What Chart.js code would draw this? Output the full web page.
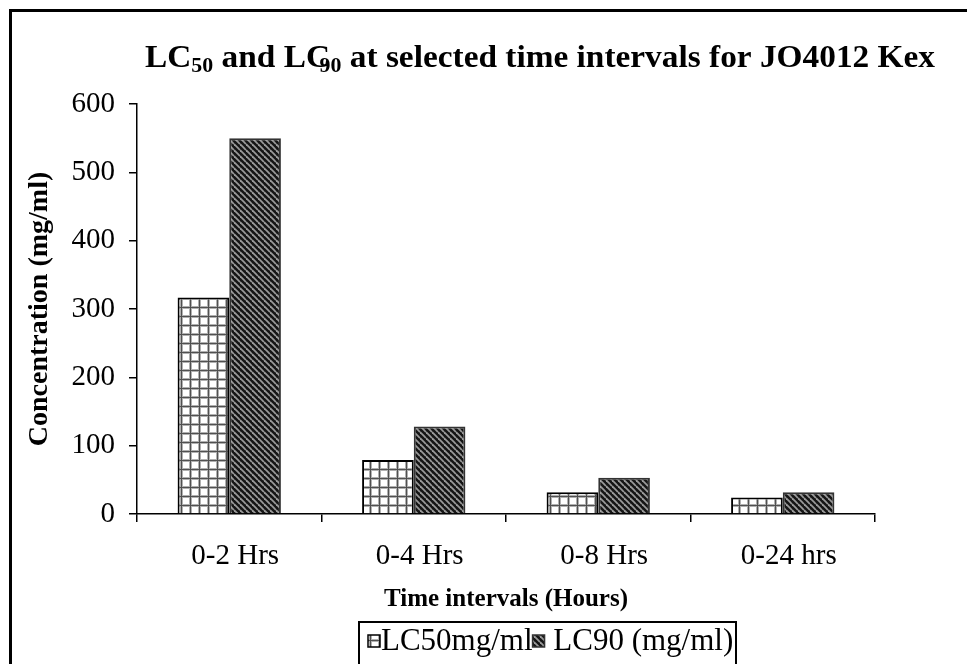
<!DOCTYPE html>
<html>
<head>
<meta charset="utf-8">
<script src="https://cdn.jsdelivr.net/npm/chart.js@4/dist/chart.umd.min.js"></script>
<style>
  html, body { margin: 0; padding: 0; background: #fff; }
  #wrap { width: 967px; height: 664px; position: relative; }
</style>
</head>
<body>
<div id="wrap"><canvas id="c" width="967" height="664"></canvas></div>
<script>
// Time intervals and the lethal concentrations measured for each
const categories = ['0-2 Hrs', '0-4 Hrs', '0-8 Hrs', '0-24 hrs'];
const lc50 = [317, 79, 32, 24];
const lc90 = [550, 128, 53, 32];
const seriesNames = ['LC50mg/ml', ' LC90 (mg/ml)'];
const yTicks = [0, 100, 200, 300, 400, 500, 600];

const SERIF = '"Liberation Serif", "Times New Roman", serif';

// Fill patterns: square grid for LC50, diagonal hatching for LC90
function gridPattern() {
  const c = document.createElement('canvas');
  c.width = 9; c.height = 9;
  const g = c.getContext('2d');
  g.fillStyle = '#ffffff'; g.fillRect(0, 0, 9, 9);
  g.fillStyle = '#b0b0b0';
  g.fillRect(0, 0, 9, 3); g.fillRect(0, 0, 3, 9);
  g.fillStyle = '#505050';
  g.fillRect(0, 1, 9, 1); g.fillRect(1, 0, 1, 9);
  return g.createPattern(c, 'repeat');
}
function hatchPattern() {
  const n = 6;
  const c = document.createElement('canvas');
  c.width = n; c.height = n;
  const g = c.getContext('2d');
  g.fillStyle = '#151515'; g.fillRect(0, 0, n, n);
  g.strokeStyle = '#9a9a9a'; g.lineWidth = 1.8;
  for (let k = -1; k <= 1; k++) {
    g.beginPath(); g.moveTo(0, k * n); g.lineTo(n, n + k * n); g.stroke();
  }
  return g.createPattern(c, 'repeat');
}
const fillLC50 = gridPattern();
const fillLC90 = hatchPattern();

// Page frame, headline with subscripts, and the boxed key
const decor = {
  id: 'decor',
  afterDraw(chart) {
    const ctx = chart.ctx;
    ctx.save();
    // frame
    ctx.strokeStyle = '#000'; ctx.lineWidth = 3;
    ctx.beginPath(); ctx.moveTo(10.5, 700); ctx.lineTo(10.5, 10.5); ctx.lineTo(980, 10.5); ctx.stroke();

    // headline
    const big = 'bold 32px ' + SERIF, small = 'bold 21px ' + SERIF;
    const parts = [
      ['LC', big, 0, 0], ['50', small, 5, 0], [' and LC', big, 0, 0], ['90', small, 5, -10],
      [' at selected time intervals for JO4012 Kex', big, 0, 0]
    ];
    let w = 0;
    parts.forEach(p => { ctx.font = p[1]; w += ctx.measureText(p[0]).width + p[3]; });
    const x0 = 145, x1 = 935, base = 67;
    ctx.translate(x0, base);
    ctx.scale((x1 - x0) / w, 1);
    ctx.fillStyle = '#000'; ctx.textBaseline = 'alphabetic'; ctx.textAlign = 'left';
    let x = 0;
    parts.forEach(p => {
      ctx.font = p[1];
      x += p[3];
      ctx.fillText(p[0], x, p[2]);
      x += ctx.measureText(p[0]).width;
    });
    ctx.restore();

    // key
    ctx.save();
    ctx.strokeStyle = '#000'; ctx.lineWidth = 2;
    ctx.strokeRect(359, 622, 377, 80);
    ctx.font = '31px ' + SERIF; ctx.fillStyle = '#000'; ctx.textBaseline = 'middle';
    const fills = [fillLC50, fillLC90];
    const borders = ['#000', '#333'];
    let lx = 368;
    seriesNames.forEach((name, i) => {
      ctx.fillStyle = fills[i];
      ctx.fillRect(lx, 635, 12, 12);
      ctx.strokeStyle = borders[i]; ctx.lineWidth = 1.5;
      ctx.strokeRect(lx, 635, 12, 12);
      ctx.fillStyle = '#000';
      ctx.fillText(name, lx + 13, 642);
      lx += 13 + ctx.measureText(name).width;
    });
    ctx.restore();
  }
};

new Chart(document.getElementById('c'), {
  type: 'bar',
  data: {
    labels: categories,
    datasets: [
      { label: seriesNames[0], data: lc50, backgroundColor: fillLC50, borderColor: '#000', borderWidth: 2 },
      { label: seriesNames[1].trim(), data: lc90, backgroundColor: fillLC90, borderColor: '#333', borderWidth: 2 }
    ]
  },
  options: {
    responsive: false,
    devicePixelRatio: 1,
    animation: false,
    layout: { padding: { top: 104, right: 92, left: 0, bottom: 0 } },
    datasets: { bar: { barPercentage: 1, categoryPercentage: 0.56 } },
    plugins: { legend: { display: false }, title: { display: false }, tooltip: { enabled: false } },
    scales: {
      x: {
        grid: { drawOnChartArea: false, offset: true, tickLength: 8, color: '#000', lineWidth: 1.5 },
        border: { color: '#000', width: 1.5 },
        ticks: { color: '#000', font: { family: SERIF, size: 29 }, padding: 17, maxRotation: 0, labelOffset: 6 },
        title: { display: true, text: 'Time intervals (Hours)', color: '#000',
                 font: { family: SERIF, size: 25, weight: 'bold' }, padding: { top: 0, bottom: 49 } },
        afterFit(s) { s.height = 150; }
      },
      y: {
        min: 0, max: 600,
        afterBuildTicks(s) { s.ticks = yTicks.map(v => ({ value: v })); },
        grid: { drawOnChartArea: false, tickLength: 8, color: '#000', lineWidth: 1.5 },
        border: { color: '#000', width: 1.5 },
        ticks: { color: '#000', font: { family: SERIF, size: 29 }, padding: 14 },
        title: { display: true, text: 'Concentration (mg/ml)', color: '#000',
                 font: { family: SERIF, size: 28, weight: 'bold' }, padding: { top: 23, bottom: 0 } },
        afterFit(s) { s.width = 137; }
      }
    }
  },
  plugins: [decor]
});
</script>
</body>
</html>
